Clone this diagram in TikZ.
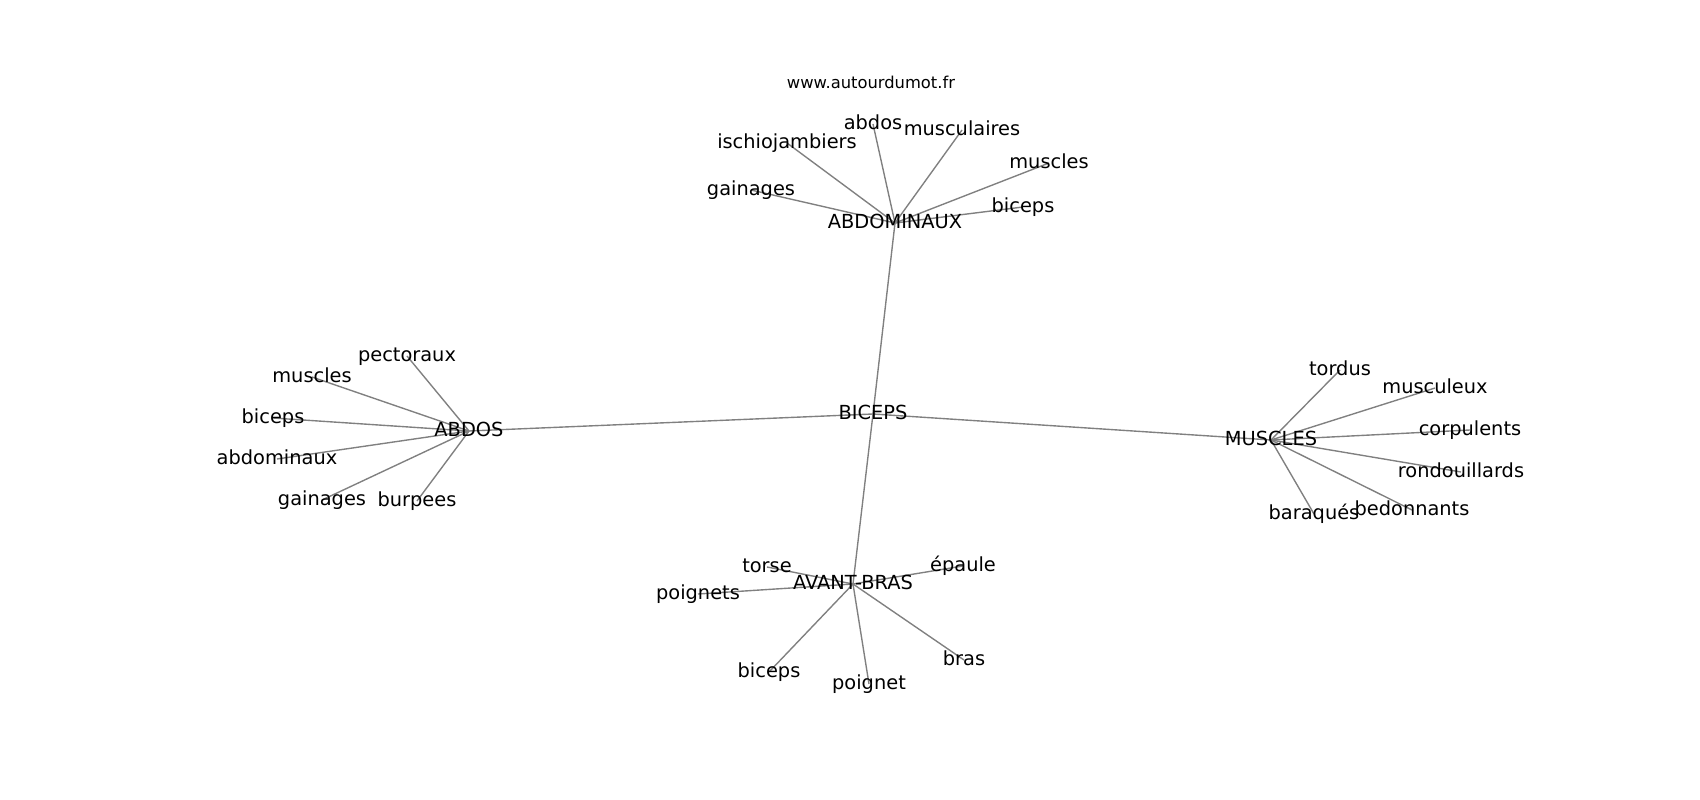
\documentclass[tikz,border=0pt]{standalone}
\usepackage{fontspec}
\setmainfont{DejaVu Sans}
\usetikzlibrary{backgrounds}

\tikzset{
  mot/.style={inner sep=0pt, anchor=center, text height=10.64pt, text depth=3.3pt,
    font=\fontsize{14}{17}\selectfont},
  lien/.style={draw=gray, line width=1pt}
}

\begin{document}
\begin{tikzpicture}[x=0.01in, y=-0.01in]
                \useasboundingbox (0,0) rectangle (1700,800);

                % Source
                \node[font=\fontsize{11.8}{14}\selectfont] (site) at (871,82) {www.autourdumot.fr};

                % Centre and hubs
                \node[mot] (biceps) at (873,414) {BICEPS};
                \node[mot] (abdominaux) at (895,223) {ABDOMINAUX};
                \node[mot] (abdos) at (469,431) {ABDOS};
                \node[mot] (muscles) at (1271,440) {MUSCLES};
                \node[mot] (avantbras) at (853,584) {AVANT-BRAS};

                % ABDOMINAUX
                \node[mot] (am-abdos) at (873,124) {abdos};
                \node[mot] (am-muscu) at (962,130) {musculaires};
                \node[mot] (am-ischio) at (787,143) {ischiojambiers};
                \node[mot] (am-muscles) at (1049,163) {muscles};
                \node[mot] (am-gain) at (751,190) {gainages};
                \node[mot] (am-biceps) at (1023,207) {biceps};

                % ABDOS
                \node[mot] (ab-pecto) at (407,356) {pectoraux};
                \node[mot] (ab-muscles) at (312,377) {muscles};
                \node[mot] (ab-biceps) at (273,418) {biceps};
                \node[mot] (ab-abdo) at (277,459) {abdominaux};
                \node[mot] (ab-gain) at (322,500) {gainages};
                \node[mot] (ab-burp) at (417,501) {burpees};

                % MUSCLES
                \node[mot] (mu-tordus) at (1340,370) {tordus};
                \node[mot] (mu-muscu) at (1435,388) {musculeux};
                \node[mot] (mu-corpu) at (1470,430) {corpulents};
                \node[mot] (mu-rond) at (1461,472) {rondouillards};
                \node[mot] (mu-bara) at (1314,514) {baraqués};
                \node[mot] (mu-bedo) at (1412,510) {bedonnants};

                % AVANT-BRAS
                \node[mot] (av-torse) at (767,567) {torse};
                \node[mot] (av-poignets) at (698,594) {poignets};
                \node[mot] (av-epaule) at (963,566) {épaule};
                \node[mot] (av-biceps) at (769,672) {biceps};
                \node[mot] (av-poignet) at (869,684) {poignet};
                \node[mot] (av-bras) at (964,660) {bras};

                % Edges under the words
                \begin{scope}[on background layer]
                \foreach \h in {abdominaux, abdos, muscles, avantbras}
                    \draw[lien] (biceps.center) -- (\h.center);
                \foreach \l in {am-abdos, am-muscu, am-ischio, am-muscles, am-gain, am-biceps}
                    \draw[lien] (abdominaux.center) -- (\l.center);
                \foreach \l in {ab-pecto, ab-muscles, ab-biceps, ab-abdo, ab-gain, ab-burp}
                    \draw[lien] (abdos.center) -- (\l.center);
                \foreach \l in {mu-tordus, mu-muscu, mu-corpu, mu-rond, mu-bara, mu-bedo}
                    \draw[lien] (muscles.center) -- (\l.center);
                \foreach \l in {av-torse, av-poignets, av-epaule, av-biceps, av-poignet, av-bras}
                    \draw[lien] (avantbras.center) -- (\l.center);
                \end{scope}
            \end{tikzpicture}
\end{document}
